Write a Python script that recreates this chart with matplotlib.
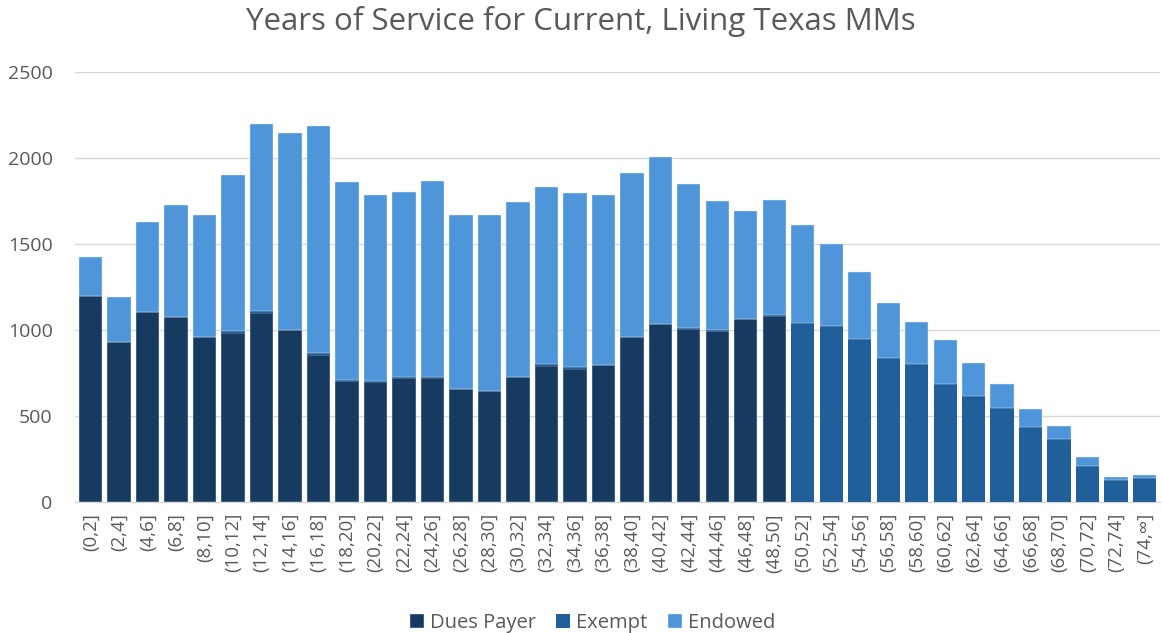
import matplotlib
matplotlib.use("Agg")
import matplotlib.pyplot as plt
import numpy as np

plt.rcParams['font.family'] = ['Open Sans', 'DejaVu Sans']

categories = ["(0,2]", "(2,4]", "(4,6]", "(6,8]", "(8,10]", "(10,12]", "(12,14]", "(14,16]",
              "(16,18]", "(18,20]", "(20,22]", "(22,24]", "(24,26]", "(26,28]", "(28,30]",
              "(30,32]", "(32,34]", "(34,36]", "(36,38]", "(38,40]", "(40,42]", "(42,44]",
              "(44,46]", "(46,48]", "(48,50]", "(50,52]", "(52,54]", "(54,56]", "(56,58]",
              "(58,60]", "(60,62]", "(62,64]", "(64,66]", "(66,68]", "(68,70]", "(70,72]",
              "(72,74]", "(74,\u221e]"]

dues_payer = [1195, 932, 1104, 1077, 957, 980, 1098, 998, 856, 700, 698, 722, 721, 657, 642,
              725, 790, 775, 793, 957, 1031, 1005, 992, 1060, 1078,
              0, 0, 0, 0, 0, 0, 0, 0, 0, 0, 0, 0, 0]
exempt = [0, 0, 0, 0, 3, 12, 14, 3, 12, 10, 3, 3, 3, 2, 2,
          3, 10, 10, 3, 3, 5, 3, 8, 3, 10,
          1040, 1021, 947, 837, 802, 686, 617, 547, 433, 363, 207, 126, 139]
endowed_total = [1423, 1193, 1624, 1727, 1665, 1897, 2193, 2144, 2185, 1856, 1781, 1800, 1862,
                 1665, 1665, 1740, 1829, 1794, 1781, 1910, 2003, 1848, 1746, 1692, 1754,
                 1611, 1500, 1336, 1158, 1046, 938, 808, 686, 541, 439, 261, 145, 157]

dues = np.array(dues_payer, dtype=float)
ex = np.array(exempt, dtype=float)
endowed = np.array(endowed_total, dtype=float) - dues - ex

c_dues = "#173a60"
c_ex = "#215f9a"
c_end = "#4e95d9"

fig = plt.figure(figsize=(11.62, 6.33), dpi=100)
ax = fig.add_axes([0.0645, 0.207, 0.934, 0.68])

x = np.arange(len(categories))
w = 0.82
ax.bar(x, dues, w, color=c_dues, label="Dues Payer", edgecolor="#e8eef6", linewidth=0.3, zorder=3)
ax.bar(x, ex, w, bottom=dues, color=c_ex, label="Exempt", edgecolor="none", linewidth=0, zorder=3)
ax.bar(x, endowed, w, bottom=dues + ex, color=c_end, label="Endowed", edgecolor="#e8eef6", linewidth=0.3, zorder=3)

ax.set_xlim(-0.55, len(categories) - 0.45)
ax.set_ylim(0, 2500)
ax.set_yticks([0, 500, 1000, 1500, 2000, 2500])
ax.yaxis.grid(True, color="#d9d9d9", linewidth=1.0, zorder=0)
ax.set_axisbelow(True)
for s in ["top", "right", "left"]:
    ax.spines[s].set_visible(False)
ax.spines["bottom"].set_color("#d9d9d9")
ax.spines["bottom"].set_linewidth(1.0)
ax.tick_params(axis="y", length=0, labelsize=14, colors="#595959", pad=16)
ax.tick_params(axis="x", length=0, labelsize=13.5, colors="#595959", pad=8)
ax.set_xticks(x)
ax.set_xticklabels(categories, rotation=90)

fig.suptitle("Years of Service for Current, Living Texas MMs", fontsize=22.5, color="#595959",
             y=0.99)

handles, labels = ax.get_legend_handles_labels()
fig.legend(handles, labels, loc="lower center", ncol=3, frameon=False, fontsize=14.5,
           bbox_to_anchor=(0.51, -0.028), handlelength=0.7, handleheight=0.7,
           handletextpad=0.3, columnspacing=1.0, labelcolor="#595959")

fig.savefig("out.png", dpi=100)
